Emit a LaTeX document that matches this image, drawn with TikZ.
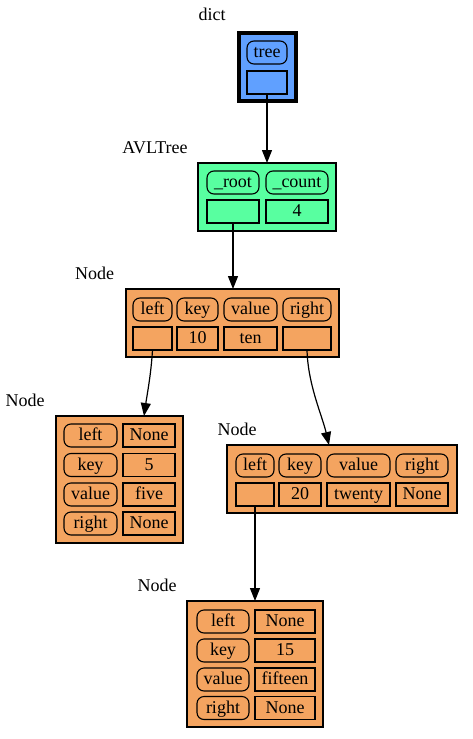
\documentclass[tikz,border=0pt]{standalone}
\usepackage{fontspec}
\setmainfont{Liberation Serif}
\usetikzlibrary{arrows.meta}
\definecolor{dictblue}{RGB}{96,160,255}
\definecolor{avlgreen}{RGB}{88,255,160}
\definecolor{nodeorange}{RGB}{244,164,96}
\tikzset{
  every node/.style={font=\fontsize{18}{20}\selectfont, inner sep=0pt, outer sep=0pt},
  outerbox/.style={draw, line width=1.2pt},
  pill/.style={draw, line width=1.1pt, rounded corners=7pt, minimum height=23pt, text height=13pt, text depth=2.5pt},
  cell/.style={draw, line width=1.1pt, minimum height=23pt, text height=13pt, text depth=2.5pt},
  lbl/.style={},
  edge/.style={line width=1.2pt, -{Triangle[length=13pt,width=10pt]}},
}
\begin{document}
\begin{tikzpicture}[x=1pt,y=-1pt]
\useasboundingbox (0,0) rectangle (472,739);

% dict
\node[lbl] (ldict) at (212,14) {dict};
\node[draw, line width=4.5pt, fill=dictblue, minimum width=57pt, minimum height=68pt] (dict) at (267.5,67) {};
\node[pill, minimum width=40pt] (dtree) at (267,52.5) {tree};
\node[cell, minimum width=40pt] (dtreev) at (267,82.5) {};

% AVLTree
\node[lbl] (lavl) at (155,148) {AVLTree};
\node[outerbox, fill=avlgreen, minimum width=138pt, minimum height=68pt] (avl) at (267,197) {};
\node[pill, minimum width=52pt] (aroot) at (233,182.5) {\_root};
\node[pill, minimum width=62pt] (acount) at (297,182.5) {\_count};
\node[cell, minimum width=52pt] (arootv) at (233,211.5) {};
\node[cell, minimum width=62pt] (acountv) at (297,211.5) {4};

% Node 1 (10)
\node[lbl] (l1) at (94.5,273) {Node};
\node[outerbox, fill=nodeorange, minimum width=213pt, minimum height=68pt] (n1) at (232.5,323) {};
\node[pill, minimum width=39pt] (n1l) at (152.5,309.5) {left};
\node[pill, minimum width=41pt] (n1k) at (197.5,309.5) {key};
\node[pill, minimum width=53pt] (n1v) at (250.5,309.5) {value};
\node[pill, minimum width=48pt] (n1r) at (307,309.5) {right};
\node[cell, minimum width=39pt] (n1lv) at (152.5,338.5) {};
\node[cell, minimum width=41pt] (n1kv) at (197.5,338.5) {10};
\node[cell, minimum width=53pt] (n1vv) at (250.5,338.5) {ten};
\node[cell, minimum width=48pt] (n1rv) at (307,338.5) {};

% Node 2 (5)
\node[lbl] (l2) at (25,400) {Node};
\node[outerbox, fill=nodeorange, minimum width=127pt, minimum height=127pt] (n2) at (119.5,479.5) {};
\node[pill, minimum width=53pt] (n2l) at (90.5,435.5) {left};
\node[cell, minimum width=52pt] (n2lv) at (149,435.5) {None};
\node[pill, minimum width=53pt] (n2k) at (90.5,465) {key};
\node[cell, minimum width=52pt] (n2kv) at (149,465) {5};
\node[pill, minimum width=53pt] (n2v) at (90.5,494.5) {value};
\node[cell, minimum width=52pt] (n2vv) at (149,494.5) {five};
\node[pill, minimum width=53pt] (n2r) at (90.5,523.5) {right};
\node[cell, minimum width=52pt] (n2rv) at (149,523.5) {None};

% Node 3 (20)
\node[lbl] (l3) at (237,429) {Node};
\node[outerbox, fill=nodeorange, minimum width=230pt, minimum height=68pt] (n3) at (342,479) {};
\node[pill, minimum width=38pt] (n3l) at (255,465.5) {left};
\node[pill, minimum width=42pt] (n3k) at (300,465.5) {key};
\node[pill, minimum width=63pt] (n3v) at (358.5,465.5) {value};
\node[pill, minimum width=52pt] (n3r) at (422,465.5) {right};
\node[cell, minimum width=38pt] (n3lv) at (255,494.5) {};
\node[cell, minimum width=42pt] (n3kv) at (300,494.5) {20};
\node[cell, minimum width=63pt] (n3vv) at (358.5,494.5) {twenty};
\node[cell, minimum width=52pt] (n3rv) at (422,494.5) {None};

% Node 4 (15)
\node[lbl] (l4) at (157,585) {Node};
\node[outerbox, fill=nodeorange, minimum width=136pt, minimum height=126pt] (n4) at (255,664) {};
\node[pill, minimum width=52pt] (n4l) at (223,621.5) {left};
\node[cell, minimum width=60pt] (n4lv) at (285,621.5) {None};
\node[pill, minimum width=52pt] (n4k) at (223,650.5) {key};
\node[cell, minimum width=60pt] (n4kv) at (285,650.5) {15};
\node[pill, minimum width=52pt] (n4v) at (223,679.5) {value};
\node[cell, minimum width=60pt] (n4vv) at (285,679.5) {fifteen};
\node[pill, minimum width=52pt] (n4r) at (223,708) {right};
\node[cell, minimum width=60pt] (n4rv) at (285,708) {None};

% edge targets
\coordinate (t2) at (144,416);
\coordinate (t3) at (329,445);

% edges
\draw[edge] (dtreev.south) -- (avl.north);
\draw[edge] (arootv.south) -- (arootv.south |- n1.north);
\draw[edge] (n1lv.south) .. controls (151,375) and (147,395) .. (t2);
\draw[edge] (n1rv.south) .. controls (308,385) and (322,415) .. (t3);
\draw[edge] (n3lv.south) -- (n3lv.south |- n4.north);
\end{tikzpicture}
\end{document}
